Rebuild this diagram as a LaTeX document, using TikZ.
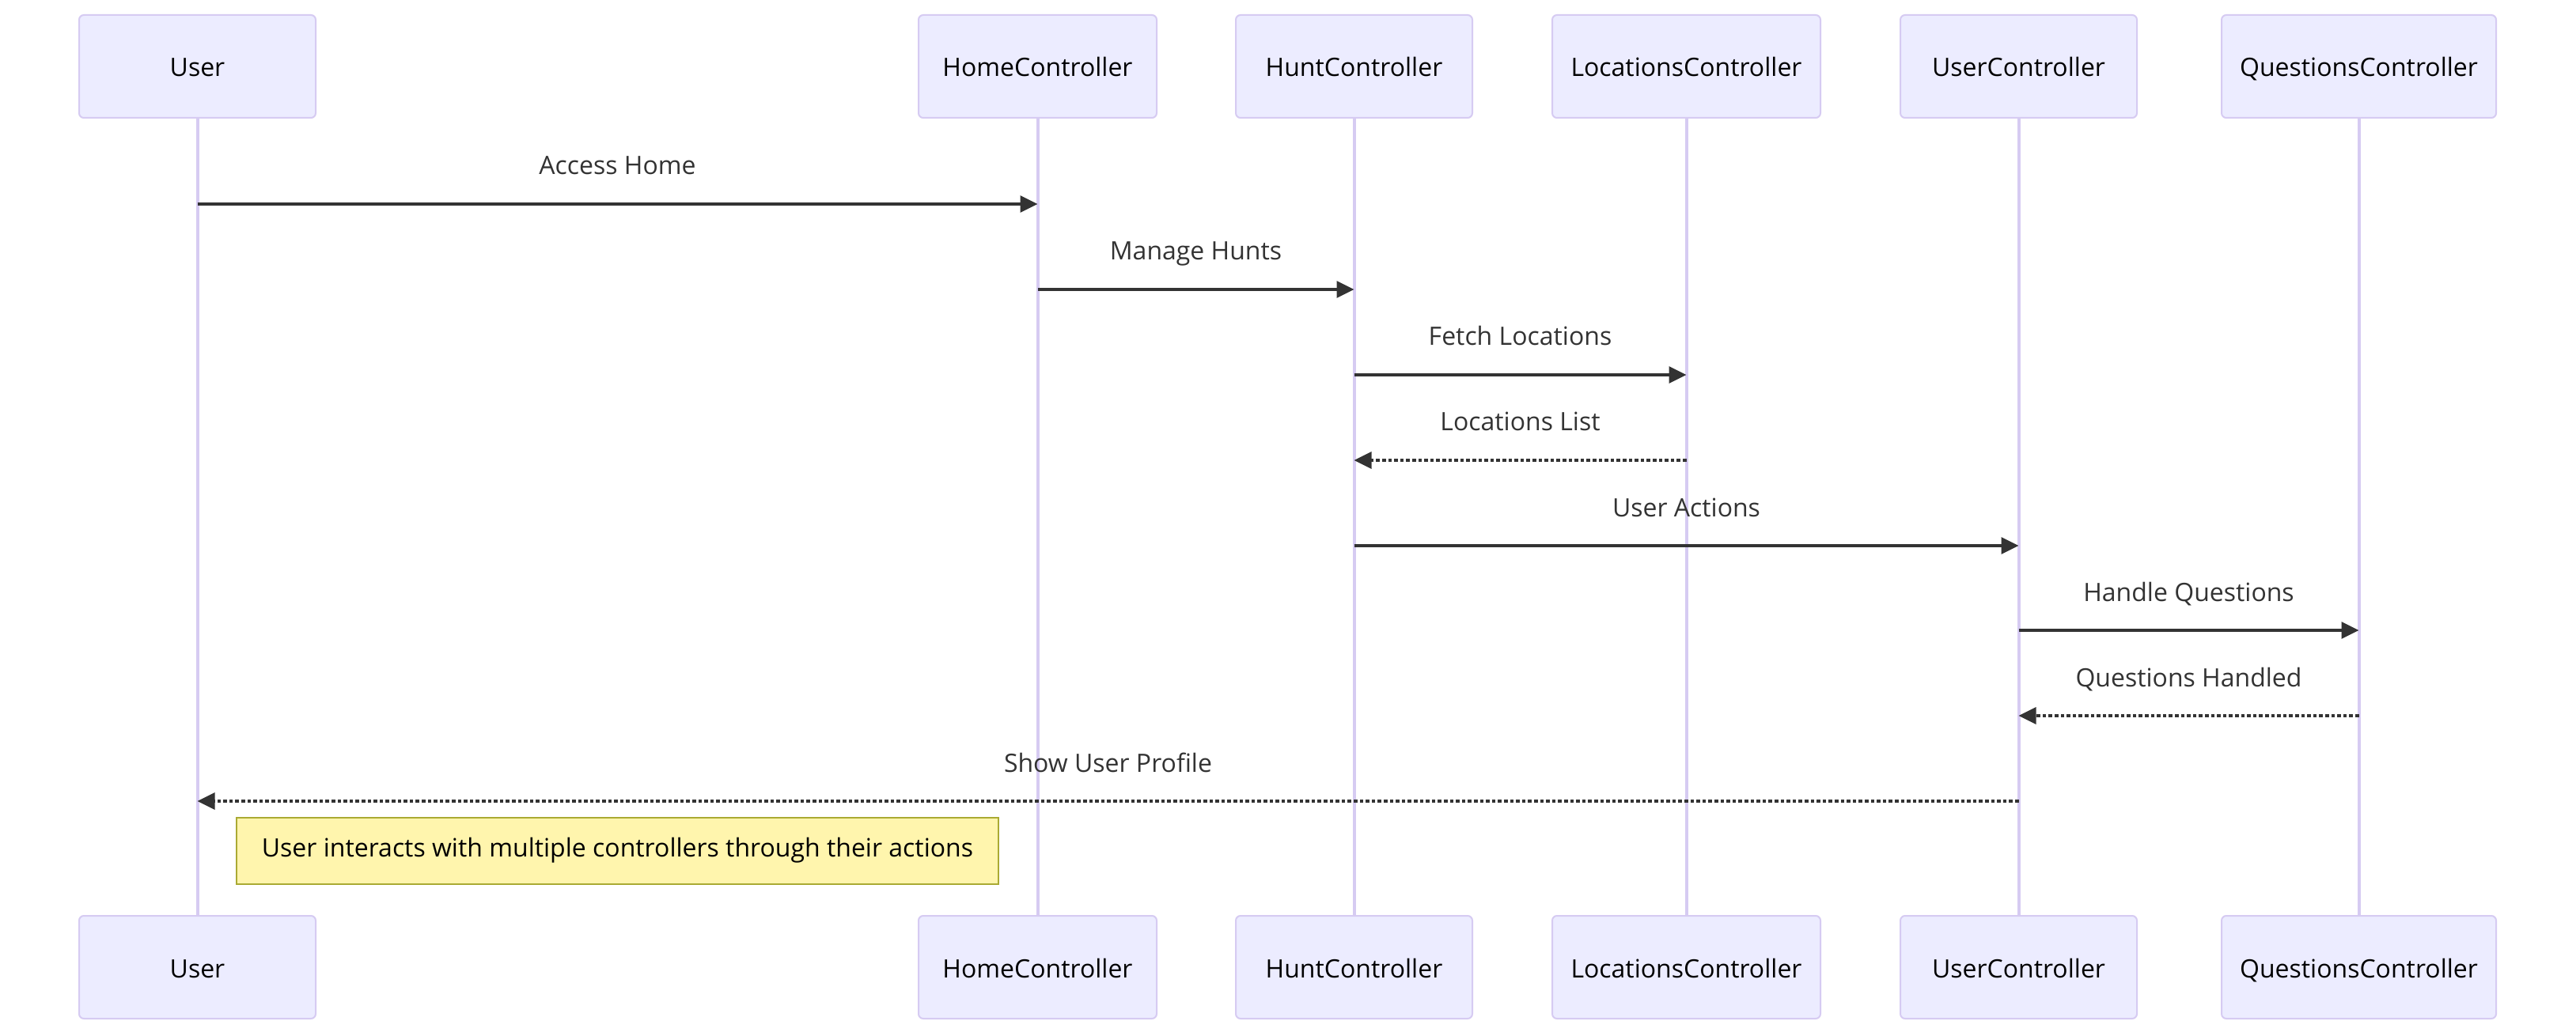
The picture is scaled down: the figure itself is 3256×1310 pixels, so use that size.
\documentclass[tikz,border=0pt]{standalone}
\usepackage{fontspec}
\setmainfont{Open Sans}
\usetikzlibrary{arrows.meta}
\definecolor{actfill}{HTML}{ECECFF}
\definecolor{actline}{HTML}{D6CBF2}
\definecolor{sig}{HTML}{333333}
\definecolor{notefill}{HTML}{FFF5AD}
\definecolor{noteline}{HTML}{AAAA33}
\begin{document}
\begin{tikzpicture}[x=0.5pt,y=-0.5pt,
  font=\fontsize{16pt}{19pt}\selectfont,
  actor/.style={draw=actline, fill=actfill, line width=1pt, rounded corners=3pt,
    minimum height=65pt, inner sep=0pt, text height=13pt, text depth=0pt, text=black},
  life/.style={draw=actline, line width=2pt},
  msg/.style={draw=sig, line width=1.7pt, -{Triangle[length=11pt,width=10.5pt]}},
  reply/.style={msg, dash pattern=on 2.3pt off 1.5pt},
  lbl/.style={midway, anchor=base, yshift=18.5pt, text=sig, inner sep=0pt},
  note/.style={draw=noteline, fill=notefill, line width=1pt, inner sep=0pt,
    text height=7pt, text depth=0pt, text=black}]
\useasboundingbox (0,0) rectangle (3256,1310);
\fill[white] (0,0) rectangle (3256,1310);

% actors top
\node[actor, minimum width=149.5pt] (uT) at (249.5,84) {User};
\node[actor, minimum width=150.5pt] (hT) at (1311.5,84) {HomeController};
\node[actor, minimum width=149.5pt] (nT) at (1711.5,84) {HuntController};
\node[actor, minimum width=169.5pt] (lT) at (2131.5,84) {LocationsController};
\node[actor, minimum width=149.5pt] (cT) at (2551.5,84) {UserController};
\node[actor, minimum width=173.5pt] (qT) at (2981.5,84) {QuestionsController};
% actors bottom
\node[actor, minimum width=149.5pt] (uB) at (249.5,1223) {User};
\node[actor, minimum width=150.5pt] (hB) at (1311.5,1223) {HomeController};
\node[actor, minimum width=149.5pt] (nB) at (1711.5,1223) {HuntController};
\node[actor, minimum width=169.5pt] (lB) at (2131.5,1223) {LocationsController};
\node[actor, minimum width=149.5pt] (cB) at (2551.5,1223) {UserController};
\node[actor, minimum width=173.5pt] (qB) at (2981.5,1223) {QuestionsController};

% lifelines
\foreach \a in {u,h,n,l,c,q}{
  \draw[life] (\a T.south) -- (\a B.north);
}

% message rows
\coordinate (m1) at (0,258);
\coordinate (m2) at (0,366);
\coordinate (m3) at (0,474);
\coordinate (m4) at (0,582);
\coordinate (m5) at (0,690);
\coordinate (m6) at (0,797);
\coordinate (m7) at (0,905);
\coordinate (m8) at (0,1013);

\draw[msg] (uT |- m1) -- (hT |- m1) node[lbl] {Access Home};
\draw[msg] (hT |- m2) -- (nT |- m2) node[lbl] {Manage Hunts};
\draw[msg] (nT |- m3) -- (lT |- m3) node[lbl] {Fetch Locations};
\draw[reply] (lT |- m4) -- (nT |- m4) node[lbl] {Locations List};
\draw[msg] (nT |- m5) -- (cT |- m5) node[lbl] {User Actions};
\draw[msg] (cT |- m6) -- (qT |- m6) node[lbl] {Handle Questions};
\draw[reply] (qT |- m7) -- (cT |- m7) node[lbl] {Questions Handled};
\draw[reply] (cT |- m8) -- (uT |- m8) node[lbl] {Show User Profile};

% note
\node[note, minimum width=481.5pt, minimum height=42pt] (nt) at (780.5,1076)
  {User interacts with multiple controllers through their actions};
\end{tikzpicture}
\end{document}
